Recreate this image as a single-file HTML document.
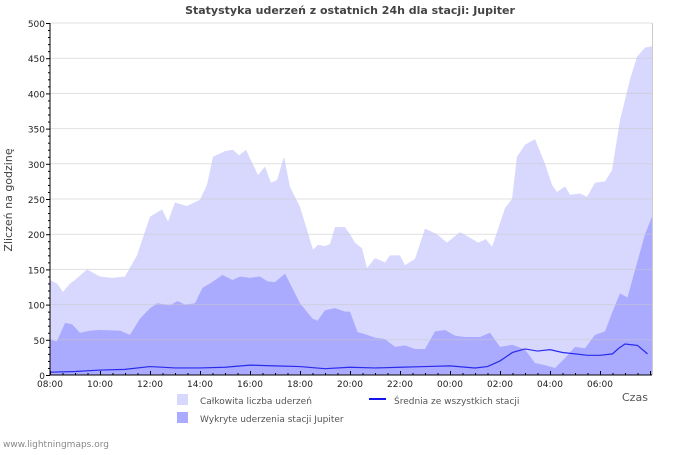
<!DOCTYPE html>
<html><head><meta charset="utf-8"><style>
body{margin:0;background:#fff;}
svg text{font-family:"DejaVu Sans","Liberation Sans",sans-serif;}
</style></head><body>
<svg width="700" height="450" xmlns="http://www.w3.org/2000/svg">
<text x="350" y="14" text-anchor="middle" font-size="11" font-weight="bold" fill="#444">Statystyka uderzeń z ostatnich 24h dla stacji: Jupiter</text>
<text transform="translate(12,200) rotate(-90)" text-anchor="middle" font-size="11" fill="#444">Zliczeń na godzinę</text>
<g id="grid"></g>
<g id="areas"></g>
<g id="axes"></g>
<text x="622" y="401" font-size="11" fill="#555">Czas</text>
<rect x="177" y="394" width="11" height="11" fill="#d8d8ff"/>
<text x="200" y="404" font-size="9" fill="#555">Całkowita liczba uderzeń</text>
<line x1="369" y1="399" x2="386" y2="399" stroke="#1515ee" stroke-width="2"/>
<text x="394" y="404" font-size="9" fill="#555">Średnia ze wszystkich stacji</text>
<rect x="177" y="412" width="11" height="11" fill="#aaaaff"/>
<text x="200" y="422" font-size="9" fill="#555">Wykryte uderzenia stacji Jupiter</text>
<text x="3" y="447" font-size="9" fill="#888">www.lightningmaps.org</text>
</svg>
<script>
const totalHours=[0,0.28,0.52,0.8,1.0,1.48,2.0,2.48,3.0,3.48,4.0,4.48,4.72,5.0,5.48,6.0,6.28,6.52,7.0,7.32,7.56,7.84,8.32,8.6,8.84,9.08,9.36,9.6,10.0,10.4,10.52,10.72,11.0,11.2,11.4,11.8,12.0,12.2,12.48,12.68,13.0,13.4,13.6,14.0,14.2,14.6,15.0,15.48,15.88,16.4,16.8,17.12,17.44,17.68,18.2,18.48,18.68,19.0,19.4,19.8,20.08,20.28,20.6,20.8,21.2,21.48,21.8,22.2,22.48,22.8,23.2,23.48,23.8,24.08];
const totalValues=[135,130,118,130,135,150,140,138,140,170,225,235,218,245,240,249,270,310,318,320,312,320,284,296,273,277,310,267,239,192,178,185,183,186,210,210,200,188,180,152,166,160,170,170,156,165,208,200,188,203,195,188,193,182,237,250,310,327,335,300,270,260,268,256,258,253,273,275,291,362,420,452,465,467];
const detectedHours=[0,0.28,0.6,0.88,1.2,1.6,2.0,2.8,3.2,3.6,4.0,4.3,4.8,5.1,5.4,5.8,6.1,6.4,6.9,7.3,7.6,8.0,8.4,8.7,9.0,9.4,10.0,10.5,10.7,11.0,11.4,11.8,12.0,12.3,12.6,13.0,13.4,13.8,14.2,14.6,15.0,15.4,15.8,16.2,16.6,17.2,17.6,18.0,18.5,19.0,19.4,19.8,20.2,20.6,21.0,21.4,21.8,22.2,22.5,22.8,23.1,23.4,23.8,24.08];
const detectedValues=[50,48,74,72,60,63,64,63,57,80,95,102,99,105,100,102,124,130,142,135,140,138,140,133,132,144,102,80,77,92,95,90,90,61,58,53,51,40,42,37,37,62,64,56,54,54,60,40,43,36,17,14,10,24,40,38,57,62,90,116,110,149,200,225];
const avgHours=[0,1,2,3,4,5,6,7,8,9,10,11,12,13,14,15,16,17,17.5,18,18.5,19,19.5,20,20.5,21,21.5,22,22.5,22.75,23,23.5,23.9];
const avgValues=[4,5,7,8,12,10,10,11,14,13,12,9,11,10,11,12,13,10,12,20,32,37,34,36,32,30,28,28,30,38,44,42,30];
const yTicks=[0,50,100,150,200,250,300,350,400,450,500];
const xTickLabels=["08:00","10:00","12:00","14:00","16:00","18:00","20:00","22:00","00:00","02:00","04:00","06:00"];
const X0=50,X1=652,Y0=375,YT=23;
const xs=h=>X0+h*25;
const ys=v=>Y0-(v/500)*(Y0-YT);
const NS="http://www.w3.org/2000/svg";
function mk(tag,attrs,parent){const e=document.createElementNS(NS,tag);for(const k in attrs)e.setAttribute(k,attrs[k]);parent.appendChild(e);return e;}
const grid=document.getElementById('grid'),areas=document.getElementById('areas'),axes=document.getElementById('axes');
function area(hs,vs,fill,name){const n=Math.min(hs.length,vs.length);let d=`M${xs(hs[0])},${Y0}`;for(let i=0;i<n;i++){d+=` L${Math.min(xs(hs[i]),X1)},${ys(vs[i])}`;}d+=` L${Math.min(xs(hs[n-1]),X1)},${Y0} Z`;const p=mk('path',{d:d,fill:fill},areas);

}
area(totalHours,totalValues,'#d8d8ff','total-area');
area(detectedHours,detectedValues,'#aaaaff','detected-area');
yTicks.forEach(v=>{if(v===0)return;const l=mk('line',{x1:X0,x2:X1,y1:ys(v),y2:ys(v),stroke:'#c8c8c8','stroke-width':1,'stroke-opacity':0.55},areas);

});
let d='';avgHours.forEach((h,i)=>{d+=(i?' L':'M')+xs(h)+','+ys(avgValues[i]);});
const al=mk('path',{d:d,fill:'none',stroke:'#2a2aee','stroke-width':1.2},areas);


mk('line',{x1:X1+0.5,x2:X1+0.5,y1:YT,y2:Y0,stroke:'#ccc'},axes);
mk('line',{x1:X0,x2:X0,y1:YT,y2:Y0,stroke:'#000'},axes);
mk('line',{x1:X0,x2:X1,y1:Y0,y2:Y0,stroke:'#000'},axes);
for(let v=0;v<=500;v+=10){const major=v%50===0;mk('line',{x1:X0-(major?4:2),x2:X0,y1:ys(v)+0.5,y2:ys(v)+0.5,stroke:'#000'},axes);}
yTicks.forEach(v=>{const t=mk('text',{x:X0-5,y:ys(v)+4,'text-anchor':'end','font-size':9,fill:'#222'},axes);t.textContent=v;

});
for(let i=0;i<=48;i++){const x=xs(i/2)+0.5;if(x>X1)break;mk('line',{x1:x,x2:x,y1:Y0,y2:Y0-(i%4===0?4:2),stroke:'#000'},axes);}
xTickLabels.forEach((s,i)=>{const t=mk('text',{x:xs(i*2),y:Y0+12,'text-anchor':'middle','font-size':9,fill:'#222'},axes);t.textContent=s;

});
</script>
</body></html>
